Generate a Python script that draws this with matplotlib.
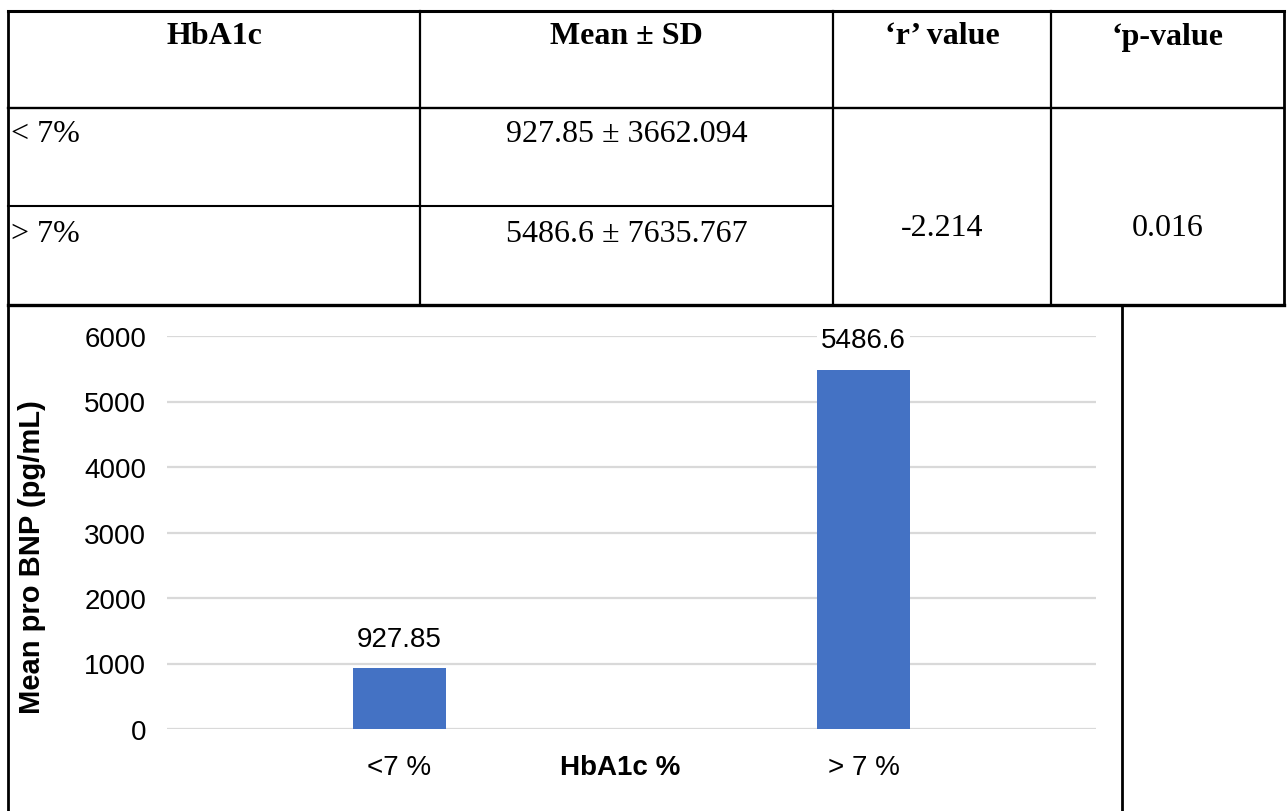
import matplotlib
matplotlib.use("Agg")
from matplotlib import pyplot as plt

# Table contents
headers = ["HbA1c", "Mean \u00b1 SD", "\u2018r\u2019 value", "\u2018p-value"]
groups = ["< 7%", "> 7%"]
means = [927.85, 5486.6]
mean_labels = ["927.85", "5486.6"]
sds = ["3662.094", "7635.767"]
r_value = "-2.214"
p_value = "0.016"

# Bar chart
categories = ["<7 %", "> 7 %"]
yticks = [0, 1000, 2000, 3000, 4000, 5000, 6000]

W, H = 1287, 812
fig = plt.figure(figsize=(W / 100, H / 100), dpi=100)
fig.patch.set_facecolor("white")

# canvas in pixel units for the table and frame
cv = fig.add_axes([0, 0, 1, 1])
cv.set_xlim(0, W)
cv.set_ylim(H, 0)
cv.axis("off")

col_x = [8, 420, 833, 1051, 1284]
row_y = [11.5, 109, 207, 306]


def hline(y, x0, x1, lw):
    cv.plot([x0, x1], [y, y], color="black", lw=lw, solid_capstyle="projecting")


def vline(x, y0, y1, lw):
    cv.plot([x, x], [y0, y1], color="black", lw=lw, solid_capstyle="projecting")


hline(row_y[0], col_x[0], col_x[-1], 2.2)
hline(row_y[1], col_x[0], col_x[-1], 1.7)
hline(row_y[2], col_x[0], col_x[2], 1.5)
hline(row_y[3], col_x[0], col_x[-1], 2.4)
vline(col_x[0], row_y[0], H, 2.0)
for x in col_x[1:4]:
    vline(x, row_y[0], row_y[3], 1.6)
vline(col_x[-1], row_y[0], row_y[3], 2.0)
vline(1122, row_y[3], H, 2.0)

serif = "Liberation Serif"
fs_tab = 23
centers = [(col_x[i] + col_x[i + 1]) / 2 for i in range(4)]
for cx, h in zip(centers, headers):
    cv.text(cx, 37, h, ha="center", va="center", fontsize=fs_tab,
            fontweight="bold", family=serif)

row_centers = [135, 234]
for yc, g, m, sd in zip(row_centers, groups, mean_labels, sds):
    cv.text(11, yc, g, ha="left", va="center", fontsize=fs_tab, family=serif)
    cv.text(centers[1], yc, f"{m} \u00b1 {sd}", ha="center", va="center",
            fontsize=fs_tab, family=serif)
cv.text(centers[2], 228, r_value, ha="center", va="center", fontsize=fs_tab, family=serif)
cv.text(centers[3], 228, p_value, ha="center", va="center", fontsize=fs_tab, family=serif)

# chart
sans = "Liberation Sans"
ax = fig.add_axes([167 / W, 1 - 730 / H, (1096 - 167) / W, (730 - 337) / H])
ax.set_facecolor("none")
x = list(range(len(categories)))
bars = ax.bar(x, means, width=0.2, color="#4472C4", zorder=3)
ax.set_xlim(-0.5, len(categories) - 0.5)
ax.set_ylim(0, 6000)
ax.set_yticks(yticks)
ax.set_yticklabels([str(t) for t in yticks], fontsize=20, family=sans)
ax.set_xticks(x)
ax.set_xticklabels(categories, fontsize=20, family=sans)
ax.tick_params(axis="both", length=0)
ax.tick_params(axis="y", pad=15)
ax.tick_params(axis="x", pad=18)
for s in ax.spines.values():
    s.set_visible(False)
ax.yaxis.grid(True, color="#d9d9d9", lw=1.6, zorder=0)
ax.set_axisbelow(True)

for rect, lab in zip(bars, mean_labels):
    ax.annotate(lab, (rect.get_x() + rect.get_width() / 2, rect.get_height()),
                xytext=(0, 12), textcoords="offset points", ha="center",
                va="bottom", fontsize=20, family=sans, zorder=4,
                bbox=dict(boxstyle="square,pad=0.15", fc="white", ec="none"))

ax.set_xlabel("HbA1c %", fontsize=20, fontweight="bold", family=sans, va="center")
ax.xaxis.set_label_coords(0.488, -0.097)
ax.set_ylabel("Mean pro BNP (pg/mL)", fontsize=21, fontweight="bold",
              family=sans, va="center")
ax.yaxis.set_label_coords(-0.145, 0.44)

fig.savefig("out.png", dpi=100)
